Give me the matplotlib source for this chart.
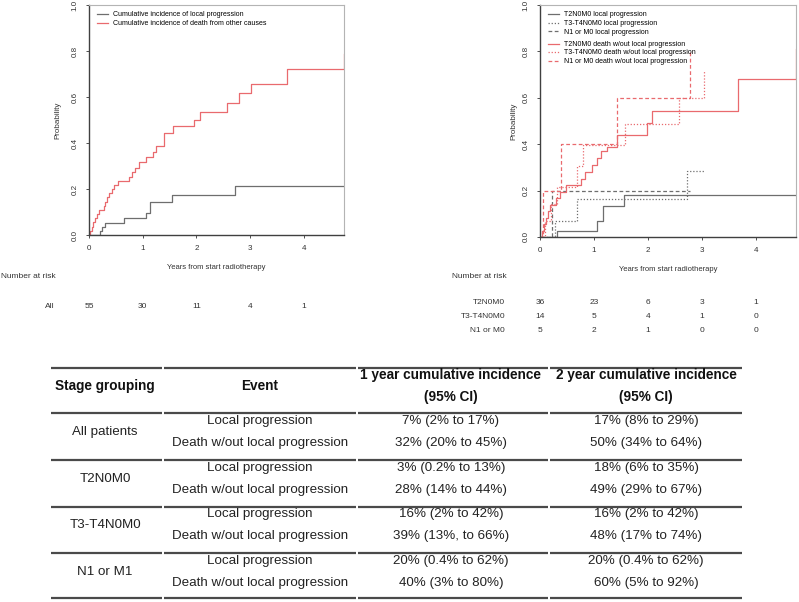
import matplotlib
matplotlib.use('Agg')
import matplotlib.pyplot as plt
import matplotlib.transforms as mtransforms

plt.rcParams['font.family'] = ['Liberation Sans', 'DejaVu Sans']

# ---- data ----
# left panel: all patients
all_local_t = [0, 0.20, 0.25, 0.30, 0.66, 1.06, 1.14, 1.54, 2.72, 4.745]
all_local_y = [0, 0.018, 0.036, 0.054, 0.076, 0.095, 0.143, 0.175, 0.214, 0.214]
all_death_t = [0, 0.02, 0.05, 0.08, 0.11, 0.14, 0.19, 0.28, 0.30, 0.33, 0.37,
               0.42, 0.47, 0.54, 0.74, 0.80, 0.86, 0.93, 1.06, 1.20, 1.24,
               1.39, 1.57, 1.95, 2.07, 2.57, 2.80, 3.01, 3.68, 4.745]
all_death_y = [0, 0.018, 0.036, 0.055, 0.073, 0.091, 0.109, 0.127, 0.145,
               0.164, 0.182, 0.200, 0.218, 0.236, 0.254, 0.273, 0.291, 0.319,
               0.338, 0.360, 0.388, 0.444, 0.473, 0.500, 0.534, 0.575, 0.616,
               0.656, 0.720, 0.785]

# right panel: by stage
t2_local_t = [0, 0.32, 1.05, 1.16, 1.55, 4.745]
t2_local_y = [0, 0.028, 0.067, 0.135, 0.183, 0.183]
t3_local_t = [0, 0.27, 0.68, 2.73, 3.04]
t3_local_y = [0, 0.071, 0.165, 0.284, 0.284]
n1_local_t = [0, 0.22, 2.79]
n1_local_y = [0, 0.20, 0.20]
t2_death_t = [0, 0.03, 0.07, 0.11, 0.15, 0.19, 0.30, 0.37, 0.48, 0.77, 0.83,
              0.96, 1.05, 1.14, 1.24, 1.42, 1.98, 2.07, 3.68, 4.745]
t2_death_y = [0, 0.028, 0.056, 0.083, 0.111, 0.139, 0.167, 0.194, 0.222, 0.25,
              0.28, 0.31, 0.34, 0.37, 0.39, 0.44, 0.49, 0.545, 0.68, 0.81]
t3_death_t = [0, 0.10, 0.20, 0.31, 0.68, 0.79, 1.58, 2.58, 3.04]
t3_death_y = [0, 0.071, 0.143, 0.214, 0.306, 0.396, 0.487, 0.60, 0.716]
n1_death_t = [0, 0.06, 0.39, 1.42, 2.79]
n1_death_y = [0, 0.20, 0.40, 0.60, 0.80]

risk_times = [0, 1, 2, 3, 4]
risk_all = [55, 30, 11, 4, 1]
risk_groups = ['T2N0M0', 'T3-T4N0M0', 'N1 or M0']
risk_by_stage = [[36, 23, 6, 3, 1], [14, 5, 4, 1, 0], [5, 2, 1, 0, 0]]

# table
tab_header = ['Stage grouping', 'Event',
              '1 year cumulative incidence\n(95% CI)',
              '2 year cumulative incidence\n(95% CI)']
tab_groups = ['All patients', 'T2N0M0', 'T3-T4N0M0', 'N1 or M1']
tab_events = ['Local progression', 'Death w/out local progression']
tab_1yr = [['7% (2% to 17%)', '32% (20% to 45%)'],
           ['3% (0.2% to 13%)', '28% (14% to 44%)'],
           ['16% (2% to 42%)', '39% (13%, to 66%)'],
           ['20% (0.4% to 62%)', '40% (3% to 80%)']]
tab_2yr = [['17% (8% to 29%)', '50% (34% to 64%)'],
           ['18% (6% to 35%)', '49% (29% to 67%)'],
           ['16% (2% to 42%)', '48% (17% to 74%)'],
           ['20% (0.4% to 62%)', '60% (5% to 92%)']]

GRAY = '#6e6e6e'
RED = '#e96a6e'
W, H = 799, 602


def box(x0, y0, x1, y1):
    return [x0 / W, 1 - y1 / H, (x1 - x0) / W, (y1 - y0) / H]


def style(ax, ylab_x):
    ax.set_xlim(0, 4.75)
    ax.set_ylim(0, 1)
    for s in ['top', 'right']:
        ax.spines[s].set_color('#b4b4b4')
        ax.spines[s].set_linewidth(0.8)
    for s in ['left', 'bottom']:
        ax.spines[s].set_color('#404040')
        ax.spines[s].set_linewidth(1.0)
    ax.set_xticks(risk_times)
    yt = [0, 0.2, 0.4, 0.6, 0.8, 1.0]
    ax.set_yticks(yt)
    ax.set_yticklabels(['%.1f' % v for v in yt], rotation=90, va='center')
    ax.tick_params(length=2.5, width=0.6, labelsize=5.8, pad=5,
                   colors='#333333')
    ax.set_xlabel('Years from start radiotherapy', fontsize=5.5,
                  color='#333333')
    ax.set_ylabel('Probability', fontsize=5.8, color='#333333')
    ax.xaxis.set_label_coords(0.5, -0.125)
    ax.yaxis.set_label_coords(ylab_x, 0.5)


fig = plt.figure(figsize=(W / 100, H / 100), dpi=100)
ov = fig.add_axes([0, 0, 1, 1], zorder=-1)
ov.set_xlim(0, W)
ov.set_ylim(H, 0)
ov.axis('off')

ax1 = fig.add_axes(box(89, 5, 344, 235))
ax2 = fig.add_axes(box(540, 5, 796, 237))

# left panel
ax1.step(all_local_t, all_local_y, where='post', color=GRAY, lw=0.9,
         label='Cumulative incidence of local progression')
ax1.step(all_death_t, all_death_y, where='post', color=RED, lw=0.9,
         label='Cumulative incidence of death from other causes')
style(ax1, -0.11)
ax1.legend(loc='upper left', bbox_to_anchor=(0.03, 0.972), frameon=False,
           fontsize=5, handlelength=1.6, handletextpad=0.7,
           labelspacing=0.25, borderpad=0, borderaxespad=0)

# right panel
l1, = ax2.step(t2_local_t, t2_local_y, where='post', color=GRAY, lw=0.9)
l2, = ax2.step(t3_local_t, t3_local_y, where='post', color=GRAY, lw=0.9,
               ls=(0, (1, 1.5)))
l3, = ax2.step(n1_local_t, n1_local_y, where='post', color=GRAY, lw=0.9,
               ls=(0, (3, 2)))
r1, = ax2.step(t2_death_t, t2_death_y, where='post', color=RED, lw=0.9)
r2, = ax2.step(t3_death_t, t3_death_y, where='post', color=RED, lw=0.9,
               ls=(0, (1, 1.5)))
r3, = ax2.step(n1_death_t, n1_death_y, where='post', color=RED, lw=0.9,
               ls=(0, (3, 2)))
style(ax2, -0.09)
k_leg = {
    'loc': 'upper left',
    'frameon': False,
    'fontsize': 5,
    'handlelength': 1.6,
    'handletextpad': 0.7,
    'labelspacing': 0.22,
    'borderpad': 0,
    'borderaxespad': 0,
}
leg1 = ax2.legend([l1, l2, l3], ['T2N0M0 local progression',
                                 'T3-T4N0M0 local progression',
                                 'N1 or M0 local progression'],
                  bbox_to_anchor=(0.03, 0.972), **k_leg)
ax2.add_artist(leg1)
ax2.legend([r1, r2, r3], ['T2N0M0 death w/out local progression',
                          'T3-T4N0M0 death w/out local progression',
                          'N1 or M0 death w/out local progression'],
           bbox_to_anchor=(0.03, 0.845), **k_leg)

# number at risk
tr1 = mtransforms.blended_transform_factory(ax1.transData, ov.transData)
tr2 = mtransforms.blended_transform_factory(ax2.transData, ov.transData)
k_r = {'fontsize': 6, 'color': '#333333', 'va': 'center'}
ov.text(1, 276, 'Number at risk', ha='left', **k_r)
ov.text(55, 307, 'All', ha='right', **k_r)
for t, n in zip(risk_times, risk_all):
    ov.text(t, 307, str(n), ha='center', transform=tr1, **k_r)
ov.text(452, 277, 'Number at risk', ha='left', **k_r)
for i, (g, row) in enumerate(zip(risk_groups, risk_by_stage)):
    yy = 303 + 14 * i
    ov.text(505, yy, g, ha='right', **k_r)
    for t, n in zip(risk_times, row):
        ov.text(t, yy, str(n), ha='center', transform=tr2, **k_r)

# summary table
col_edges = [50, 163, 357, 549, 743]
col_mid = [105, 260, 451, 646]
rule_y = [368, 413, 460, 507, 553, 598]
for yy in rule_y:
    for a, b in zip(col_edges[:-1], col_edges[1:]):
        ov.plot([a + 1, b - 1], [yy, yy], color='#4a4a4a', lw=1.6,
                solid_capstyle='butt')

k_h = {'fontsize': 9.8, 'fontweight': 'bold', 'color': '#111111',
       'ha': 'center', 'va': 'center'}
ov.text(col_mid[0], 386, tab_header[0], **k_h)
ov.text(col_mid[1], 386, tab_header[1], **k_h)
for c in (2, 3):
    top, bot = tab_header[c].split('\n')
    ov.text(col_mid[c], 375, top, **k_h)
    ov.text(col_mid[c], 397, bot, **k_h)

k_b = {'fontsize': 9.6, 'color': '#222222', 'ha': 'center', 'va': 'center'}
for g in range(len(tab_groups)):
    y0 = 421 + 46.7 * g
    ov.text(col_mid[0], y0 + 11, tab_groups[g], **k_b)
    for e in range(2):
        yy = y0 + 22 * e
        ov.text(col_mid[1], yy, tab_events[e], **k_b)
        ov.text(col_mid[2], yy, tab_1yr[g][e], **k_b)
        ov.text(col_mid[3], yy, tab_2yr[g][e], **k_b)

fig.savefig('out.png', dpi=100)
